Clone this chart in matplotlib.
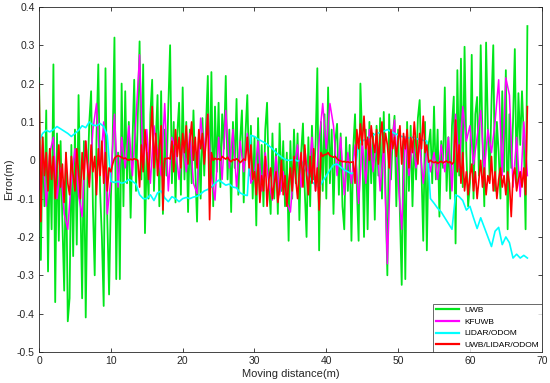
import numpy as np
import matplotlib.pyplot as plt

plt.rcParams['font.family'] = ['Liberation Sans', 'DejaVu Sans']

# UWB error, sampled every 0.25 m
uwb = [
    0.24, -0.26, 0.06, -0.12, 0.13, -0.29, 0.03, -0.18, 0.25, -0.37, 0.07, -0.21, 0.05, -0.16, -0.34, 0.02, -0.42, -0.36, 0.04, -0.25,
    0.08, -0.22, 0.17, -0.10, -0.36, 0.05, -0.41, -0.05, 0.10, 0.18, -0.12, -0.30, 0.06, 0.25, -0.08, -0.20, -0.38, 0.24, -0.15, -0.35,
    -0.10, 0.05, 0.32, -0.31, 0.02, -0.31, 0.20, -0.12, 0.18, -0.06, 0.10, -0.15, 0.04, 0.21, -0.08, 0.12, 0.31, -0.05, 0.25, -0.19,
    0.02, -0.10, 0.12, 0.21, -0.08, 0.05, 0.17, -0.12, 0.18, -0.14, 0.08, -0.04, 0.14, 0.30, -0.06, 0.10, -0.11, 0.07, 0.15, -0.09,
    0.19, -0.05, 0.10, -0.135, 0.08, -0.06, 0.13, -0.02, -0.16, 0.06, -0.10, 0.11, -0.04, 0.09, 0.22, -0.08, 0.23, -0.12, 0.14, -0.03,
    0.15, -0.07, 0.12, 0.03, 0.22, -0.05, 0.08, -0.135, 0.10, -0.02, 0.16, -0.09, 0.05, 0.13, -0.11, 0.07, 0.17, -0.04, 0.09, -0.10,
    0.06, -0.17, 0.11, -0.09, 0.04, -0.12, 0.08, 0.15, -0.06, -0.14, 0.07, -0.10, 0.03, -0.14, 0.096, -0.08, 0.05, -0.12, 0.02, -0.21,
    0.05, -0.10, 0.08, -0.06, 0.07, -0.156, 0.02, 0.096, -0.08, -0.20, 0.06, -0.12, 0.09, -0.05, 0.04, 0.24, -0.235, 0.10, -0.08, 0.12,
    -0.10, 0.19, -0.06, 0.08, -0.14, 0.05, 0.095, -0.09, 0.07, -0.12, -0.18, 0.06, -0.08, 0.04, -0.21, 0.03, 0.12, -0.07, -0.21, 0.20,
    0.05, -0.20, 0.08, -0.18, 0.10, -0.06, 0.07, -0.155, 0.09, -0.04, 0.11, -0.10, 0.126, -0.08, -0.30, 0.12, -0.05, 0.06, 0.116, -0.12,
    0.08, -0.14, -0.325, 0.05, -0.31, 0.10, -0.08, 0.09, -0.12, 0.06, -0.05, 0.11, 0.157, -0.03, -0.21, 0.10, -0.235, 0.04, 0.08, -0.06,
    0.14, -0.05, 0.08, -0.147, 0.05, -0.02, 0.19, -0.08, 0.06, -0.10, 0.09, 0.166, -0.217, 0.235, -0.04, 0.265, -0.07, 0.296, 0.02, -0.12,
    -0.06, 0.275, -0.10, 0.12, 0.165, -0.04, 0.30, 0.05, -0.12, 0.307, 0.08, -0.05, 0.15, 0.30, -0.08, 0.10, 0.02, -0.10, 0.18, -0.03,
    0.235, -0.18, 0.12, -0.02, 0.10, 0.29, -0.06, 0.175, 0.04, 0.18, 0.06, -0.18, 0.35,
]

# UWB/LIDAR/ODOM fusion error, every 0.25 m
fusion = [
    0.20, -0.16, 0.06, -0.04, 0.02, -0.08, 0.03, -0.05, 0.01, -0.10, -0.02, 0.04, -0.07, -0.01, -0.11, 0.02, -0.06, -0.09, 0.01, -0.04,
    -0.08, 0.03, -0.03, -0.10, 0.02, -0.05, 0.05, -0.02, -0.07, 0.04, -0.03, 0.01, -0.09, 0.03, -0.04, 0.05, -0.06, 0.02, -0.08, -0.02,
    -0.03, -0.01, 0.005, 0.01, 0.012, 0.01, 0.008, 0.004, 0.006, 0.002, 0.0, 0.003, 0.001, 0.004, 0.002, 0.0, -0.07, 0.04, -0.03, 0.08,
    0.02, -0.05, 0.06, 0.14, -0.02, 0.07, -0.04, 0.03, 0.09, -0.13, 0.005, 0.004, 0.006, 0.003, 0.05, -0.03, 0.08, 0.01, 0.06, -0.02,
    0.07, 0.02, 0.09, -0.01, 0.05, 0.10, 0.0, 0.06, -0.02, 0.08, 0.03, 0.07, -0.01, 0.05, 0.12, -0.155, 0.02, 0.0, 0.005, 0.002,
    0.004, 0.0, 0.01, 0.006, 0.003, 0.008, 0.0, -0.004, 0.002, 0.0, 0.004, 0.0, -0.006, -0.002, 0.003, 0.0, 0.06, -0.02, 0.04, -0.05,
    -0.03, -0.09, -0.01, -0.11, -0.04, -0.08, 0.01, -0.12, -0.05, -0.02, -0.10, -0.06, -0.03, -0.11, -0.07, 0.0, -0.09, -0.04, -0.12, -0.06,
    -0.02, -0.08, 0.01, -0.05, -0.10, -0.03, 0.02, -0.07, 0.04, -0.04, -0.09, 0.01, -0.06, 0.03, -0.08, -0.02, -0.13, 0.02, 0.01, 0.015,
    0.015, 0.02, 0.012, 0.01, 0.008, 0.01, 0.004, 0.0, -0.002, -0.004, -0.003, -0.005, -0.004, -0.006, -0.005, -0.004, -0.06, 0.08, 0.03, 0.095,
    0.04, 0.115, 0.03, 0.06, 0.0, 0.09, 0.05, 0.02, 0.08, -0.01, 0.06, 0.10, 0.02, 0.07, 0.04, -0.02, 0.08, 0.03, 0.06, 0.01,
    0.05, 0.09, -0.01, 0.07, 0.03, 0.08, -0.02, 0.06, 0.02, 0.10, 0.04, -0.01, 0.07, 0.03, 0.115, 0.02, 0.04, -0.005, 0.0, -0.004,
    -0.006, -0.004, -0.008, -0.005, -0.003, -0.007, -0.004, -0.002, -0.006, -0.004, -0.01, -0.005, 0.105, -0.03, 0.04, -0.06, 0.02, -0.08, -0.03, -0.09,
    -0.04, -0.01, -0.08, -0.03, -0.10, -0.05, 0.0, -0.07, -0.02, -0.09, -0.04, -0.06, 0.01, -0.08, -0.03, -0.10, -0.05, -0.02, -0.07, -0.04,
    -0.09, -0.03, -0.06, -0.147, -0.04, -0.02, -0.08, -0.05, -0.03, -0.07, -0.02, -0.09, 0.14,
]

# KFUWB error, every 0.5 m
kfuwb = [
    -0.08, 0.04, -0.12, 0.02, 0.06, -0.10, -0.02, -0.14, -0.18, -0.05,
    0.03, -0.09, -0.147, 0.05, -0.06, 0.08, 0.148, -0.03, 0.10, -0.14,
    -0.05, 0.12, -0.07, 0.06, -0.02, 0.09, -0.04, 0.11, 0.275, -0.02,
    0.08, -0.06, 0.09, 0.02, -0.04, 0.148, -0.08, 0.06, 0.03, -0.05,
    0.05, -0.03, 0.07, -0.06, -0.087, 0.11, 0.02, 0.12, -0.04, -0.104,
    0.06, -0.05, 0.13, -0.02, 0.08, -0.07, 0.05, -0.03, 0.07, -0.06,
    -0.04, 0.05, -0.08, 0.02, -0.06, -0.104, 0.01, -0.09, -0.03, -0.11,
    -0.135, -0.02, 0.04, -0.07, 0.03, -0.05, 0.06, -0.08, 0.05, 0.148,
    0.03, 0.148, 0.09, -0.04, 0.06, -0.09, 0.02, -0.06, 0.04, -0.113,
    0.05, -0.06, 0.08, -0.03, 0.06, -0.08, 0.04, -0.27, 0.02, 0.105,
    -0.05, -0.18, 0.06, -0.04, 0.05, -0.02, 0.04, -0.06, 0.03, -0.03,
    0.02, -0.05, 0.04, -0.03, 0.06, -0.08, 0.12, -0.02, 0.14, 0.05,
    0.09, -0.01, 0.06, 0.13, -0.03, 0.08, 0.02, 0.10, 0.21, -0.04,
    0.215, 0.17, -0.07, 0.06, -0.095, 0.10, -0.04,
]

# LIDAR/ODOM error, every 0.5 m
lidar = [
    0.05, 0.07, 0.078, 0.074, 0.08, 0.088, 0.082, 0.076, 0.07, 0.062,
    0.07, 0.078, 0.09, 0.085, 0.1, 0.092, 0.09, 0.096, 0.088, 0.064,
    -0.055, -0.058, -0.055, -0.06, -0.057, -0.05, -0.055, -0.062, -0.09, -0.10,
    -0.10, -0.09, -0.105, -0.085, -0.08, -0.098, -0.108, -0.095, -0.10, -0.108,
    -0.10, -0.097, -0.1, -0.096, -0.094, -0.088, -0.08, -0.076, -0.07, -0.06,
    -0.052, -0.058, -0.065, -0.062, -0.07, -0.072, -0.085, -0.09, -0.092, 0.065,
    0.062, 0.055, 0.05, 0.045, 0.038, 0.03, 0.02, 0.012, 0.005, 0.0,
    0.0, 0.002, -0.002, 0.0, -0.02, -0.04, -0.055, -0.065, -0.07, -0.055,
    -0.04, -0.025, -0.012, -0.01, -0.018, -0.025, -0.03, -0.035, -0.03, 0.045,
    0.05, 0.055, 0.06, 0.065, 0.07, 0.072, 0.076, 0.08, 0.075, 0.07,
    0.066, 0.062, 0.06, 0.058, 0.06, 0.056, 0.055, 0.052, 0.05, -0.10,
    -0.112, -0.125, -0.135, -0.15, -0.165, -0.18, -0.09, -0.095, -0.105, -0.13,
    -0.12, -0.15, -0.178, -0.15, -0.175, -0.20, -0.225, -0.185, -0.175, -0.22,
    -0.2, -0.215, -0.255, -0.245, -0.255, -0.248, -0.255,
]

x_fine = np.arange(len(uwb)) * 0.25
x_coarse = np.arange(len(kfuwb)) * 0.5

fig = plt.figure(figsize=(5.5, 3.83), dpi=100)
ax = fig.add_axes([0.071, 0.081, 0.914, 0.901])

ax.plot(x_fine, uwb, color='#00e61a', lw=1.3, label='UWB')
ax.plot(x_coarse, kfuwb, color='#ff00ff', lw=1.1, label='KFUWB')
ax.plot(x_coarse, lidar, color='#00ffff', lw=1.2, label='LIDAR/ODOM')
ax.plot(x_fine, fusion, color='#ff0000', lw=1.2, label='UWB/LIDAR/ODOM')

ax.set_xlim(0, 70)
ax.set_ylim(-0.5, 0.4)
ax.set_xticks(range(0, 71, 10))
yt = [-0.5, -0.4, -0.3, -0.2, -0.1, 0, 0.1, 0.2, 0.3, 0.4]
ax.set_yticks(yt)
ax.set_yticklabels(['-0.5', '-0.4', '-0.3', '-0.2', '-0.1', '0', '0.1', '0.2', '0.3', '0.4'])
ax.tick_params(direction='in', top=True, right=True, length=3, width=0.6,
               labelsize=7.5, colors='#262626', pad=3)
for s in ax.spines.values():
    s.set_color('#262626')
    s.set_linewidth(0.6)

ax.set_xlabel('Moving distance(m)', fontsize=8, color='#262626', labelpad=2)
ax.set_ylabel('Error(m)', fontsize=8, color='#262626', labelpad=2)

leg = ax.legend(loc='lower right', fontsize=6, frameon=True, fancybox=False,
                edgecolor='#262626', borderaxespad=0, handlelength=2.8,
                labelspacing=0.45, borderpad=0.35, handletextpad=0.6)
leg.get_frame().set_linewidth(0.6)
for line in leg.get_lines():
    line.set_linewidth(1.6)

fig.savefig('out.png', dpi=100)
